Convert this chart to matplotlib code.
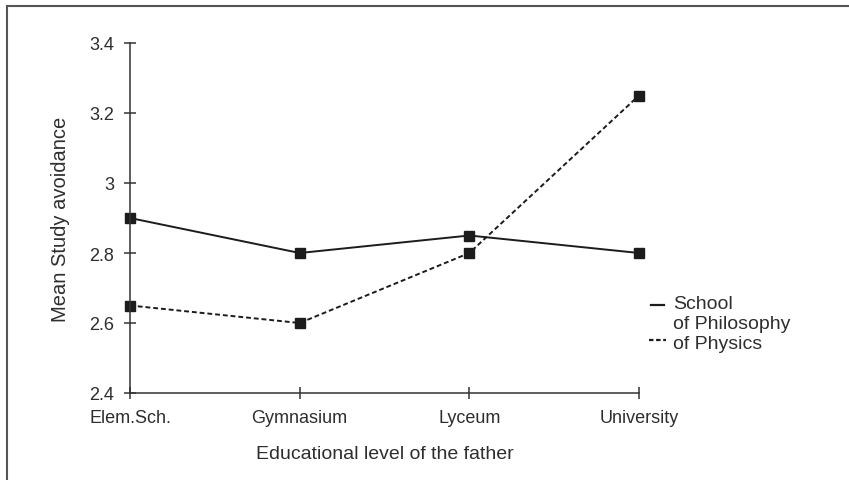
import numpy as np
import matplotlib.pyplot as plt
from matplotlib.lines import Line2D

plt.rcParams['font.family'] = ['Liberation Sans', 'DejaVu Sans']

levels = ['Elem.Sch.', 'Gymnasium', 'Lyceum', 'University']
philosophy = [2.9, 2.8, 2.85, 2.8]
physics = [2.65, 2.6, 2.8, 3.25]
y_ticks = [2.4, 2.6, 2.8, 3.0, 3.2, 3.4]
y_tick_labels = ['2.4', '2.6', '2.8', '3', '3.2', '3.4']

W, H = 849, 481
ink = '#1c1c1c'
txt = '#2e2e2e'
dash = (0, (2.5, 1.5))

fig = plt.figure(figsize=(W / 100, H / 100), dpi=100)
ax = fig.add_axes([130 / W, 1 - 394 / H, 509 / W, 350 / H])

x = np.arange(len(levels))
ax.plot(x, philosophy, color=ink, lw=1.4, marker='s', ms=6.5, clip_on=False)
ax.plot(x, physics, color=ink, lw=1.4, ls=dash, marker='s', ms=6.5,
        clip_on=False)

ax.set_xlim(0, 3)
ax.set_ylim(2.4, 3.4)
ax.set_xticks(x)
ax.set_xticklabels(levels, fontsize=13)
ax.set_yticks(y_ticks)
ax.set_yticklabels(y_tick_labels, fontsize=13)
ax.tick_params(direction='inout', length=9, width=1.1, color='#333333',
               labelcolor=txt)
ax.tick_params(axis='x', pad=7)
ax.tick_params(axis='y', pad=7)
for s in ['top', 'right']:
    ax.spines[s].set_visible(False)
for s in ['left', 'bottom']:
    ax.spines[s].set_color('#333333')
    ax.spines[s].set_linewidth(1.1)

ax.set_xlabel('Educational level of the father', fontsize=14, color=txt,
              labelpad=14)
ax.set_ylabel('Mean Study avoidance', fontsize=14.5, color=txt, labelpad=14)

# legend drawn by hand to get the odd layout of the original
fig.text(673 / W, 1 - 296 / H, 'School\nof Philosophy\nof Physics',
         fontsize=14, color=txt, va='top', ha='left', linespacing=1.22)
fig.add_artist(Line2D([651 / W, 664 / W], [1 - 306 / H] * 2, color=ink, lw=1.6))
fig.add_artist(Line2D([649 / W, 666 / W], [1 - 341 / H] * 2, color=ink, lw=1.6,
                      ls=(0, (2, 1.2))))

# frame lines at top and left of the page
fig.add_artist(Line2D([7 / W, 1], [1 - 7 / H] * 2, color='#555555', lw=1.5))
fig.add_artist(Line2D([7 / W] * 2, [0, 1 - 7 / H], color='#555555', lw=1.5))

fig.savefig('out.png', dpi=100)
